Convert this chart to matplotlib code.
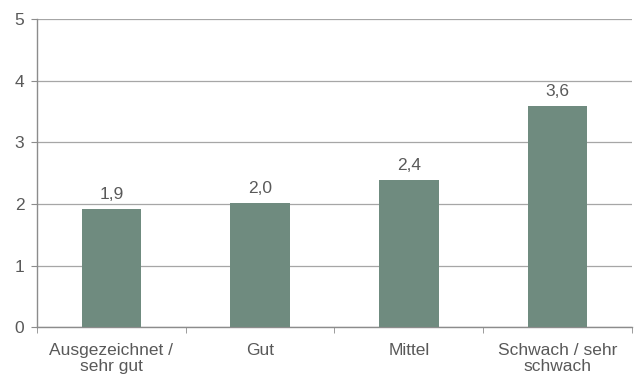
import matplotlib
matplotlib.use("Agg")
import matplotlib.pyplot as plt
import numpy as np

categories = ["Ausgezeichnet /\nsehr gut", "Gut", "Mittel", "Schwach / sehr\nschwach"]
values = [1.92, 2.02, 2.39, 3.59]
value_labels = ["1,9", "2,0", "2,4", "3,6"]

plt.rcParams['font.family'] = ['Liberation Sans', 'DejaVu Sans']
text_color = "#595959"
bar_color = "#6f8b7f"
fs = 12.5

fig = plt.figure(figsize=(6.37, 3.76), dpi=100)
ax = fig.add_axes([0.058, 0.130, 0.934, 0.819])

x = np.arange(len(categories))
ax.bar(x, values, width=0.4, color=bar_color, zorder=3)
for xi, v, lab in zip(x, values, value_labels):
    ax.annotate(lab, (xi, v), xytext=(0, 5), textcoords="offset points",
                ha="center", va="bottom", fontsize=fs, color=text_color)

ax.set_xlim(-0.5, len(categories) - 0.5)
ax.set_ylim(0, 5)
ax.set_yticks(range(6))
ax.yaxis.grid(True, color="#a6a6a6", linewidth=0.9, zorder=0)
ax.set_xticks(x)
ax.set_xticklabels(categories, fontsize=fs, color=text_color, linespacing=1.1)
ax.set_xticks(np.arange(-0.5, len(categories)), minor=True)
ax.tick_params(axis="x", which="major", length=0, pad=11.5)
ax.tick_params(axis="x", which="minor", length=4, color="#8c8c8c", direction="out")
ax.tick_params(axis="y", length=4, color="#8c8c8c", labelsize=fs, labelcolor=text_color, pad=5)

for s in ["top", "right"]:
    ax.spines[s].set_visible(False)
for s in ["left", "bottom"]:
    ax.spines[s].set_color("#8c8c8c")
    ax.spines[s].set_linewidth(1.0)

fig.savefig("out.png", dpi=100)
